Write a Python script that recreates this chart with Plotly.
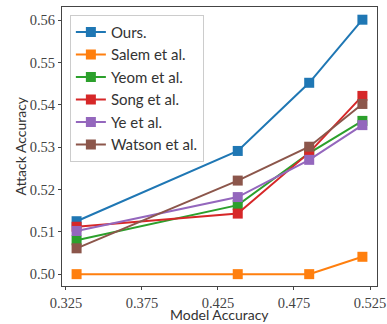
import plotly.graph_objects as go

model_acc = [0.332, 0.438, 0.485, 0.520]
series_names = ["Ours.", "Salem et al.", "Yeom et al.", "Song et al.", "Ye et al.", "Watson et al."]
ours = [0.5125, 0.5291, 0.5452, 0.5601]
salem = [0.5000, 0.5000, 0.5000, 0.5041]
yeom = [0.5080, 0.5163, 0.5286, 0.5362]
song = [0.5112, 0.5143, 0.5287, 0.5421]
ye = [0.5102, 0.5182, 0.5270, 0.5352]
watson = [0.5061, 0.5221, 0.5301, 0.5402]
colors = ["#1f77b4", "#ff7f0e", "#2ca02c", "#d62728", "#9467bd", "#8c564b"]
x_ticks = [0.325, 0.375, 0.425, 0.475, 0.525]
y_ticks = [0.50, 0.51, 0.52, 0.53, 0.54, 0.55, 0.56]
x_title = "Model Accuracy"
y_title = "Attack Accuracy"

fig = go.Figure()
for name, vals, c in zip(series_names, [ours, salem, yeom, song, ye, watson], colors):
    fig.add_trace(go.Scatter(
        x=model_acc, y=vals, name=name, mode="lines+markers",
        line=dict(color=c, width=2),
        marker=dict(symbol="square", size=10, color=c),
    ))

axis_common = dict(
    showline=True, linecolor="#444", linewidth=1.2, mirror=True,
    ticks="outside", ticklen=3, tickcolor="#444", showgrid=False, zeroline=False,
    automargin=False, ticklabeloverflow="allow",
    tickfont=dict(family="Liberation Serif, DejaVu Serif, serif", size=14.5, color="#444"),
)
fig.update_xaxes(range=[0.3224, 0.5296], tickvals=x_ticks,
                 ticktext=[f"{v:.3f}" for v in x_ticks], **axis_common)
fig.update_yaxes(range=[0.4972, 0.5631], tickvals=y_ticks,
                 ticktext=[f"{v:.2f}" for v in y_ticks], **axis_common)

title_font = dict(family="Lato, DejaVu Sans, sans-serif", size=14, color="#333")
fig.add_annotation(text=x_title, xref="paper", yref="paper", x=0.5, y=-38 / 279,
                   xanchor="center", yanchor="bottom", showarrow=False, font=title_font,
                   borderpad=0)
fig.add_annotation(text=y_title, xref="paper", yref="paper", x=-0.133, y=0.5,
                   xanchor="center", yanchor="middle", textangle=-90,
                   showarrow=False, font=title_font)

fig.update_layout(
    width=387, height=324,
    margin=dict(l=62, r=10, t=7, b=38),
    paper_bgcolor="white", plot_bgcolor="white",
    legend=dict(x=0.025, y=0.972, xanchor="left", yanchor="top",
                bgcolor="rgba(255,255,255,0.9)", bordercolor="#ccc", borderwidth=1,
                font=dict(family="Lato, DejaVu Sans, sans-serif", size=15, color="#333"),
                tracegroupgap=0, itemwidth=30),
    showlegend=True,
)
fig.write_html("out.html", config={"displayModeBar": False},
               post_script="document.body.style.margin='0';")
